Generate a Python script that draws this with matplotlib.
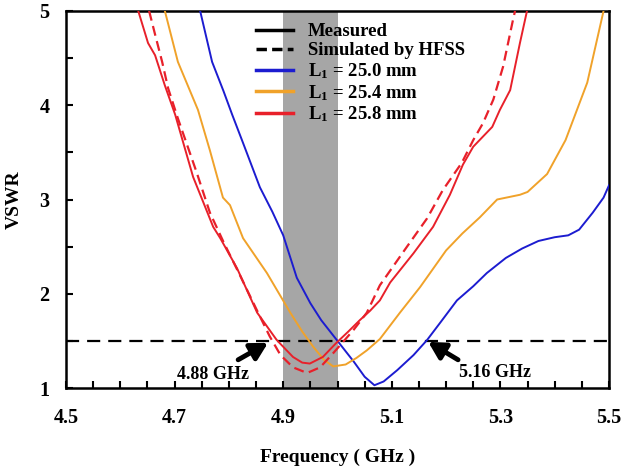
import numpy as np
import matplotlib
matplotlib.use("Agg")
import matplotlib.pyplot as plt
from matplotlib.lines import Line2D
from matplotlib.ticker import MultipleLocator

plt.rcParams['font.family'] = 'Liberation Serif'
plt.rcParams['font.weight'] = 'bold'
plt.rcParams['mathtext.fontset'] = 'custom'
plt.rcParams['mathtext.rm'] = 'Liberation Serif:bold'
plt.rcParams['mathtext.it'] = 'Liberation Serif:bold'

# measured, L1 = 25.0 mm
f_250 = [4.747, 4.769, 4.79, 4.806, 4.826, 4.857, 4.88, 4.90, 4.925, 4.95, 4.97, 5.0,
         5.03, 5.05, 5.068, 5.085, 5.11, 5.14, 5.165, 5.19, 5.22, 5.25, 5.275, 5.31,
         5.34, 5.37, 5.40, 5.425, 5.445, 5.47, 5.49, 5.50]
v_250 = [5.0, 4.46, 4.15, 3.9, 3.60, 3.13, 2.87, 2.62, 2.17, 1.9, 1.72, 1.5,
         1.28, 1.12, 1.03, 1.07, 1.19, 1.35, 1.51, 1.7, 1.93, 2.08, 2.22, 2.38,
         2.48, 2.56, 2.60, 2.62, 2.68, 2.86, 3.02, 3.15]

# measured, L1 = 25.4 mm
f_254 = [4.682, 4.706, 4.743, 4.765, 4.789, 4.802, 4.826, 4.87, 4.913, 4.935, 4.955,
         4.975, 4.992, 5.015, 5.035, 5.054, 5.078, 5.115, 5.152, 5.2, 5.23, 5.262,
         5.294, 5.336, 5.35, 5.386, 5.42, 5.46, 5.49]
v_254 = [5.0, 4.46, 3.95, 3.52, 3.02, 2.94, 2.59, 2.22, 1.80, 1.6, 1.44,
         1.3, 1.23, 1.25, 1.32, 1.40, 1.52, 1.80, 2.07, 2.46, 2.64, 2.81,
         3.0, 3.05, 3.08, 3.27, 3.63, 4.24, 5.0]

# measured, L1 = 25.8 mm
f_258 = [4.633, 4.651, 4.664, 4.682, 4.701, 4.734, 4.771, 4.784, 4.815, 4.852, 4.888,
         4.918, 4.935, 4.949, 4.973, 4.998, 5.02, 5.041, 5.06, 5.078, 5.097, 5.14,
         5.176, 5.207, 5.231, 5.25, 5.285, 5.299, 5.318, 5.336, 5.349]
v_258 = [5.0, 4.66, 4.53, 4.21, 3.90, 3.24, 2.71, 2.59, 2.27, 1.80, 1.51,
         1.33, 1.27, 1.26, 1.33, 1.48, 1.6, 1.72, 1.82, 1.93, 2.12, 2.43,
         2.71, 3.05, 3.37, 3.56, 3.77, 3.95, 4.16, 4.66, 5.0]

# simulated by HFSS, L1 = 25.8 mm
f_sim = [4.653, 4.664, 4.677, 4.688, 4.706, 4.741, 4.765, 4.79, 4.82, 4.852, 4.875,
         4.895, 4.918, 4.944, 4.968, 4.992, 5.03, 5.054, 5.078, 5.128, 5.165, 5.194,
         5.229, 5.25, 5.268, 5.287, 5.305, 5.323, 5.327]
v_sim = [5.0, 4.75, 4.46, 4.18, 3.86, 3.28, 2.86, 2.55, 2.2, 1.82, 1.55,
         1.35, 1.22, 1.16, 1.22, 1.37, 1.62, 1.80, 2.09, 2.5, 2.8, 3.1,
         3.39, 3.63, 3.81, 4.06, 4.41, 4.9, 5.0]

blue = '#1c1cd0'
orange = '#f0a22a'
red = '#e8202a'

fig = plt.figure(figsize=(6.23, 4.75), dpi=100)
ax = fig.add_axes([0.106, 0.183, 0.8715, 0.794])

# band of interest
ax.axvspan(4.9, 5.0, color='#a6a6a6', lw=0, zorder=0)
# VSWR = 1.5 reference
ax.axhline(1.5, color='black', lw=1.6, dashes=(5.9, 3.6), zorder=1)

ax.plot(f_250, v_250, color=blue, lw=1.4, zorder=3)
ax.plot(f_254, v_254, color=orange, lw=1.4, zorder=3)
ax.plot(f_258, v_258, color=red, lw=1.4, zorder=3)
ax.plot(f_sim, v_sim, color=red, lw=1.6, dashes=(4.5, 2.5), zorder=3)

ax.set_xlim(4.5, 5.5)
ax.set_ylim(1, 5)
ax.set_xticks([4.5, 4.7, 4.9, 5.1, 5.3, 5.5])
ax.set_yticks([1, 2, 3, 4, 5])
ax.xaxis.set_minor_locator(MultipleLocator(0.05))
ax.yaxis.set_minor_locator(MultipleLocator(0.5))
ax.tick_params(which='both', direction='in', top=False, right=False, width=1.5)
ax.tick_params(which='major', length=5, labelsize=14.5, pad=14)
ax.tick_params(which='minor', length=5)
ax.tick_params(axis='y', pad=12)
for s in ax.spines.values():
    s.set_linewidth(1.8)

ax.set_xlabel('Frequency ( GHz )', fontsize=14, fontweight='bold', labelpad=15)
ax.set_ylabel('VSWR', fontsize=14, fontweight='bold', labelpad=12)

arrow = dict(arrowstyle='-|>,head_width=0.55,head_length=1.0',
             color='black', lw=3.5, shrinkA=0, shrinkB=0)
ax.annotate('', xy=(4.872, 1.48), xytext=(4.817, 1.30), arrowprops=arrow)
ax.annotate('', xy=(5.167, 1.49), xytext=(5.222, 1.30), arrowprops=arrow)
ax.text(4.771, 1.14, '4.88 GHz', fontsize=13, fontweight='bold',
        ha='center', va='center')
ax.text(5.29, 1.16, '5.16 GHz', fontsize=13, fontweight='bold',
        ha='center', va='center')

handles = [Line2D([], [], color='black', lw=2.5),
           Line2D([], [], color='black', lw=2.5, dashes=(3, 1.5)),
           Line2D([], [], color=blue, lw=2.5),
           Line2D([], [], color=orange, lw=2.5),
           Line2D([], [], color=red, lw=2.5)]
labels = ['Measured', 'Simulated by HFSS', 'L$_1$ = 25.0 mm',
          'L$_1$ = 25.4 mm', 'L$_1$ = 25.8 mm']
ax.legend(handles, labels, loc='upper left', bbox_to_anchor=(0.35, 0.967),
          frameon=False, fontsize=13.5, handlelength=1.95, handletextpad=0.8,
          labelspacing=0.1, borderpad=0, borderaxespad=0)

fig.savefig('out.png', dpi=100)
